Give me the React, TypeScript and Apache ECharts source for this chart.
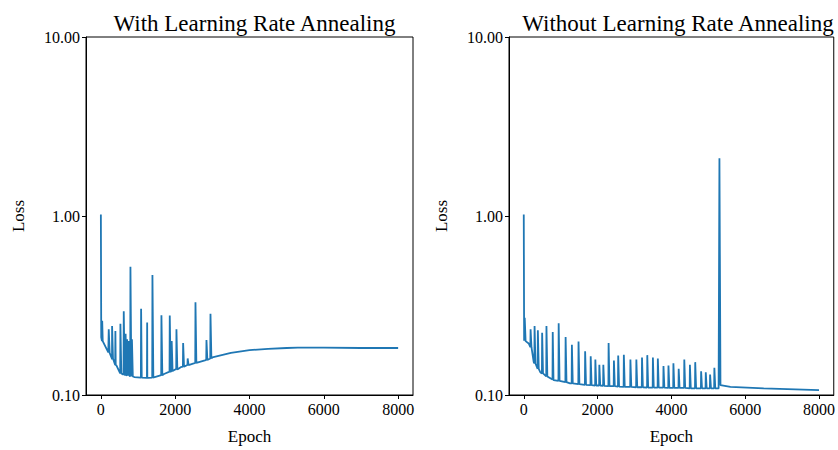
import React, { useEffect, useRef } from "react";
import * as echarts from "echarts";

// ---- Left panel: with learning rate annealing ----
const leftBaseEpochs = [0, 10, 50, 200, 300, 400, 550, 700, 900, 1100, 1250, 1450, 1700, 2000, 2150, 2500, 2800, 3000, 3500, 4000, 4500, 5000, 5300, 6000, 7000, 8000];
const leftBaseLoss = [1.02, 0.21, 0.2, 0.173, 0.158, 0.146, 0.132, 0.128, 0.126, 0.125, 0.1245, 0.126, 0.131, 0.139, 0.143, 0.15, 0.156, 0.162, 0.172, 0.178, 0.181, 0.183, 0.184, 0.184, 0.183, 0.183];
const leftSpikeEpochs = [30, 206, 296, 385, 520, 610, 660, 700, 740, 790, 830, 1077, 1240, 1382, 1624, 1848, 1900, 2028, 2208, 2330, 2540, 2836, 2944];
const leftSpikePeaks = [0.26, 0.233, 0.243, 0.228, 0.25, 0.294, 0.22, 0.205, 0.2, 0.52, 0.205, 0.303, 0.254, 0.468, 0.279, 0.278, 0.2, 0.233, 0.195, 0.16, 0.33, 0.203, 0.284];
const leftSpikeBases = [0.2, 0.172, 0.16, 0.147, 0.132, 0.13, 0.129, 0.128, 0.128, 0.127, 0.127, 0.125, 0.1245, 0.125, 0.129, 0.135, 0.136, 0.139, 0.144, 0.147, 0.151, 0.157, 0.16];

// ---- Right panel: without learning rate annealing ----
const rightBaseEpochs = [0, 10, 134, 269, 448, 806, 1254, 2150, 3493, 5280, 5302, 5330, 5600, 6500, 8000];
const rightBaseLoss = [1.02, 0.201, 0.194, 0.153, 0.134, 0.121, 0.116, 0.1125, 0.11, 0.1089, 2.1, 0.1135, 0.111, 0.109, 0.1065];
const rightSpikeEpochs = [20, 179, 287, 376, 492, 609, 779, 940, 1128, 1298, 1478, 1657, 1808, 1934, 2042, 2150, 2293, 2437, 2553, 2706, 2884, 3045, 3198, 3341, 3493, 3627, 3780, 3915, 4049, 4192, 4344, 4496, 4640, 4800, 4926, 5043, 5159];
const rightSpikePeaks = [0.27, 0.233, 0.243, 0.23, 0.223, 0.243, 0.225, 0.2515, 0.211, 0.191, 0.199, 0.1755, 0.1646, 0.158, 0.1476, 0.1476, 0.195, 0.156, 0.166, 0.168, 0.158, 0.158, 0.162, 0.167, 0.162, 0.16, 0.145, 0.146, 0.1505, 0.14, 0.158, 0.1476, 0.1526, 0.1356, 0.134, 0.13, 0.142];
const rightSpikeBases = [0.2, 0.185, 0.15, 0.14, 0.132, 0.127, 0.122, 0.12, 0.118, 0.116, 0.115, 0.114, 0.1135, 0.113, 0.113, 0.1125, 0.112, 0.112, 0.1115, 0.111, 0.111, 0.1105, 0.1105, 0.11, 0.11, 0.11, 0.11, 0.1095, 0.1095, 0.1095, 0.1095, 0.109, 0.109, 0.109, 0.109, 0.109, 0.109];

const xTicks = [0, 2000, 4000, 6000, 8000];
const yTicks = [0.1, 1, 10];
const titles = ["With Learning Rate Annealing", "Without Learning Rate Annealing"];

function buildSeries(be: number[], bl: number[], se: number[], sp: number[], sb: number[]) {
  const pts: [number, number][] = be.map((e, i) => [e, bl[i]]);
  se.forEach((e, i) => {
    pts.push([e, sb[i]]);
    pts.push([e + 6, sp[i]]);
    pts.push([e + 30, sb[i]]);
  });
  pts.sort((a, b) => a[0] - b[0]);
  return pts;
}

const FONT = "Liberation Serif";

export default function App() {
  const ref = useRef<HTMLDivElement>(null);
  useEffect(() => {
    if (!ref.current) return;
    const chart = echarts.init(ref.current, null, { renderer: "svg" });
    const grids = [
      { left: 86, top: 37, width: 327, height: 363 },
      { left: 509, top: 37, width: 328, height: 363 },
    ];
    const data = [
      buildSeries(leftBaseEpochs, leftBaseLoss, leftSpikeEpochs, leftSpikePeaks, leftSpikeBases),
      buildSeries(rightBaseEpochs, rightBaseLoss, rightSpikeEpochs, rightSpikePeaks, rightSpikeBases),
    ];
    chart.setOption({
      animation: false,
      backgroundColor: "#fff",
      title: titles.map((t, i) => ({
        text: t,
        left: grids[i].left + grids[i].width / 2,
        top: 7,
        textAlign: "center",
        textStyle: { fontFamily: FONT, fontSize: 23, fontWeight: "normal", color: "#000" },
      })),
      grid: grids.map((g) => ({ ...g, show: true, borderColor: "#000", borderWidth: 1, backgroundColor: "transparent" })),
      xAxis: grids.map((_, i) => ({
        type: "value",
        gridIndex: i,
        min: -400,
        max: 8400,
        name: "Epoch",
        nameLocation: "middle",
        nameGap: 33,
        nameTextStyle: { fontFamily: FONT, fontSize: 17, color: "#000" },
        axisLine: { show: true, onZero: false, lineStyle: { color: "#000", width: 1 } },
        axisTick: { show: true, inside: false, length: 4, customValues: xTicks, lineStyle: { color: "#000" } },
        axisLabel: {
          customValues: xTicks,
          fontFamily: FONT,
          fontSize: 16,
          color: "#000",
          margin: 6,
          formatter: (v: number) => String(Math.round(v)),
        },
        splitLine: { show: false },
      })),
      yAxis: grids.map((_, i) => ({
        type: "log",
        logBase: 10,
        gridIndex: i,
        min: 0.1,
        max: 10,
        name: "Loss",
        nameLocation: "middle",
        nameGap: 59,
        nameTextStyle: { fontFamily: FONT, fontSize: 17, color: "#000" },
        axisLine: { show: true, onZero: false, lineStyle: { color: "#000", width: 1 } },
        axisTick: { show: true, inside: false, length: 4, customValues: yTicks, lineStyle: { color: "#000" } },
        axisLabel: {
          customValues: yTicks,
          fontFamily: FONT,
          fontSize: 16,
          color: "#000",
          margin: 6,
          formatter: (v: number) => Number(v).toFixed(2),
        },
        splitLine: { show: false },
        minorTick: { show: false },
      })),
      series: data.map((d, i) => ({
        type: "line",
        xAxisIndex: i,
        yAxisIndex: i,
        data: d,
        showSymbol: false,
        symbol: "none",
        lineStyle: { color: "#1f77b4", width: 1.8 },
        clip: true,
      })),
    });
    return () => chart.dispose();
  }, []);
  return <div ref={ref} style={{ position: "fixed", left: 0, top: 0, width: 838, height: 450 }} />;
}
